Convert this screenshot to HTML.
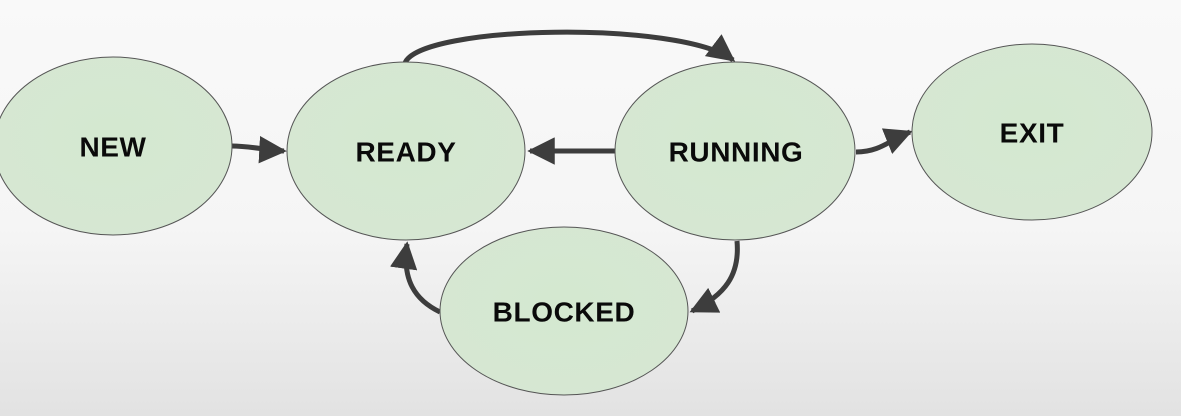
<!DOCTYPE html>
<html><head><style>
html,body{margin:0;padding:0;width:1181px;height:416px;overflow:hidden;background:linear-gradient(#f9f9f9 0%,#f5f5f5 55%,#e2e2e2 100%);}
svg{display:block}
text{font-family:"Liberation Sans",sans-serif;font-weight:bold;font-size:28px;fill:#0a0a0a;text-anchor:middle;dominant-baseline:central;letter-spacing:0.6px}
</style></head><body>
<svg width="1181" height="416" viewBox="0 0 1181 416">
<defs>
<radialGradient id="g" cx="50%" cy="45%" r="60%"><stop offset="0" stop-color="#d4e8d0"/><stop offset="1" stop-color="#d6e7d3"/></radialGradient>
<marker id="a" viewBox="0 0 10 10" refX="9" refY="5" markerWidth="5.5" markerHeight="5.5" orient="auto" markerUnits="strokeWidth"><path d="M0,0 L10,5 L0,10z" fill="#3d3d3d"/></marker>
</defs>
<g fill="none" stroke="#3d3d3d" stroke-width="5" marker-end="url(#a)">
<path d="M405,63 C420,25 680,20 733,60"/>
<path d="M615,151 L530,151"/>
<path d="M232,146 C250,146 265,150 284,151"/>
<path d="M856,152 C880,152 890,140 910,132"/>
<path d="M737,241 C740,275 725,295 692,311"/>
<path d="M440,312 C415,300 402,280 407,244"/>
</g>
<g fill="url(#g)" stroke="#555" stroke-width="1">
<ellipse cx="113" cy="146" rx="119" ry="89"/>
<ellipse cx="406" cy="151" rx="119" ry="89"/>
<ellipse cx="735" cy="151" rx="120" ry="89"/>
<ellipse cx="1032" cy="132" rx="120" ry="88"/>
<ellipse cx="564" cy="311" rx="124" ry="84"/>
</g>
<text x="113" y="147">NEW</text>
<text x="406" y="152">READY</text>
<text x="736" y="152">RUNNING</text>
<text x="1032" y="133">EXIT</text>
<text x="564" y="312">BLOCKED</text>
</svg>
</body></html>
